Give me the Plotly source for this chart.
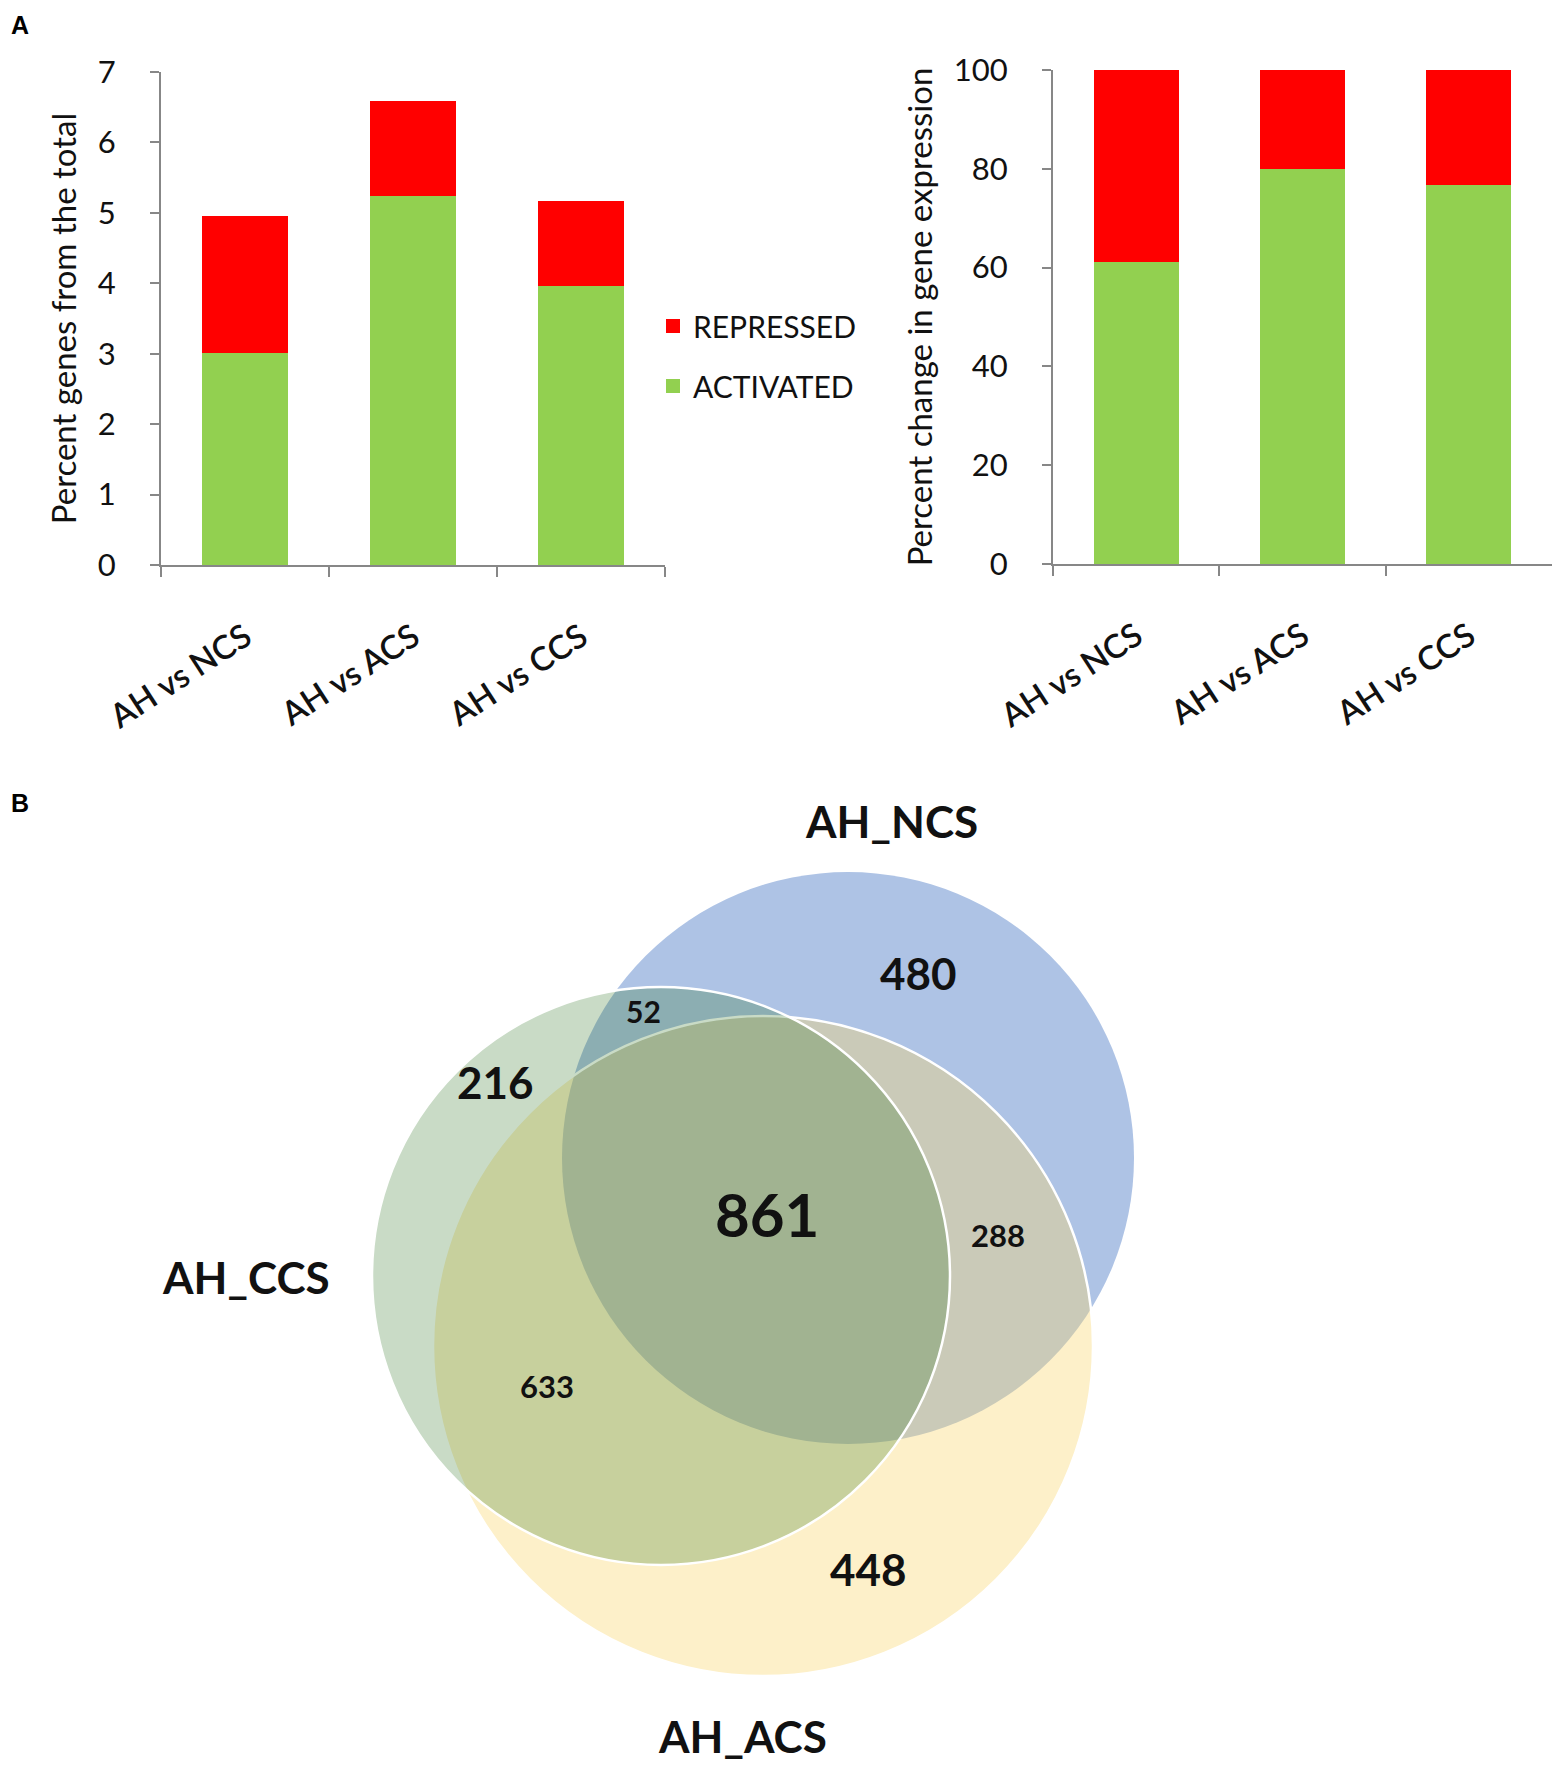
import plotly.graph_objects as go

# ---------- data ----------
comparisons = ["AH vs NCS", "AH vs ACS", "AH vs CCS"]
# percent genes from the total
activated_total = [3.02, 5.25, 3.98]
repressed_total = [1.92, 1.32, 1.18]
# percent change in gene expression
activated_change = [61.4, 80.2, 76.9]
repressed_change = [38.6, 19.8, 23.1]

venn_sets = ["AH_NCS", "AH_ACS", "AH_CCS"]
venn_regions = ["NCS", "NCS_CCS", "CCS", "ALL", "NCS_ACS", "CCS_ACS", "ACS"]
venn_counts = [480, 52, 216, 861, 288, 633, 448]

# ---------- layout helpers (pixels) ----------
W, H = 1562, 1767
FONT = "Lato"
RED = "#ff0000"
GREEN = "#92d050"
AXIS = "#878787"


def px(x):
    return x / W


def py(y):
    return 1 - y / H


fig = go.Figure()

# --- panel A, left ---
fig.add_trace(go.Bar(x=comparisons, y=activated_total, name="ACTIVATED", marker_color=GREEN,
                     marker_line=dict(color=GREEN, width=2), width=0.5, legendgroup="a",
                     legendrank=2, xaxis="x", yaxis="y"))
fig.add_trace(go.Bar(x=comparisons, y=repressed_total, name="REPRESSED", marker_color=RED,
                     marker_line=dict(color=RED, width=2), width=0.5, legendgroup="r",
                     legendrank=1, xaxis="x", yaxis="y"))
# --- panel A, right ---
fig.add_trace(go.Bar(x=comparisons, y=activated_change, name="ACTIVATED", marker_color=GREEN,
                     marker_line=dict(color=GREEN, width=2), width=0.5, showlegend=False,
                     xaxis="x2", yaxis="y2"))
fig.add_trace(go.Bar(x=comparisons, y=repressed_change, name="REPRESSED", marker_color=RED,
                     marker_line=dict(color=RED, width=2), width=0.5, showlegend=False,
                     xaxis="x2", yaxis="y2"))

xcommon = dict(showline=True, linecolor=AXIS, linewidth=2, ticks="outside", tickson="boundaries",
               ticklen=10, tickwidth=2, tickcolor=AXIS, tickangle=-33, ticklabelstandoff=38,
               tickfont=dict(family=FONT, size=33, color="#111", weight=600), showgrid=False,
               automargin=False)
ycommon = dict(showline=True, linecolor=AXIS, linewidth=2, ticks="outside", ticklen=9, tickwidth=2,
               tickcolor=AXIS, showgrid=False, zeroline=False, ticklabelstandoff=28,
               tickfont=dict(family=FONT, size=31, color="#111"), automargin=False)

fig.update_layout(
    xaxis=dict(domain=[px(161), px(665)], anchor="y", **xcommon),
    yaxis=dict(domain=[py(565), py(72)], anchor="x", range=[0, 7], dtick=1,
               title=dict(text="Percent genes from the total", standoff=11,
                          font=dict(family=FONT, size=33, color="#111")), **ycommon),
    xaxis2=dict(domain=[px(1053), px(1552)], anchor="y2", **xcommon),
    yaxis2=dict(domain=[py(564), py(70)], anchor="x2", range=[0, 100], dtick=20,
                title=dict(text="Percent change in gene expression", standoff=11,
                           font=dict(family=FONT, size=33, color="#111")), **ycommon),
    # venn panel uses pixel-like units
    xaxis3=dict(domain=[0, 1], range=[0, W], visible=False, anchor="y3", automargin=False),
    yaxis3=dict(domain=[0, py(760)], range=[H, 760], visible=False, anchor="x3", automargin=False),
    barmode="stack",
    width=W, height=H,
    margin=dict(l=0, r=0, t=0, b=0, autoexpand=False),
    paper_bgcolor="white", plot_bgcolor="white",
    showlegend=True,
    legend=dict(x=px(653), y=py(300), xanchor="left", yanchor="top", traceorder="grouped",
                tracegroupgap=18, font=dict(family=FONT, size=30, color="#111"),
                bgcolor="rgba(0,0,0,0)"),
)

# ---------- panel B : venn ----------
# circle geometry (centre x, centre y, radius) in pixels, drawn bottom to top
circles = {
    "AH_NCS": (848, 1158, 286),
    "AH_ACS": (763, 1346, 330),
    "AH_CCS": (661, 1276, 289),
}
fills = {
    "AH_NCS": "rgb(174,195,229)",
    "AH_ACS": "rgba(249,214,109,0.37)",
    "AH_CCS": "rgba(40,112,28,0.25)",
}
edges = {"AH_NCS": 0, "AH_ACS": 2.5, "AH_CCS": 2.5}
for s in venn_sets:
    cx, cy, r = circles[s]
    fig.add_shape(type="circle", xref="x3", yref="y3", x0=cx - r, x1=cx + r, y0=cy - r, y1=cy + r,
                  fillcolor=fills[s], line=dict(color="white", width=edges[s]), layer="below")

set_label_pos = {"AH_NCS": (891, 821), "AH_ACS": (742, 1736), "AH_CCS": (246, 1277)}
for s in venn_sets:
    lx, ly = set_label_pos[s]
    fig.add_annotation(x=lx, y=ly, xref="x3", yref="y3", text=s, showarrow=False,
                       font=dict(family=FONT, size=44, color="#111", weight="bold"))

count_pos = {
    "NCS": (918, 973, 44), "NCS_CCS": (643, 1011, 30), "CCS": (495, 1082, 44),
    "ALL": (767, 1214, 60), "NCS_ACS": (998, 1235, 31), "CCS_ACS": (547, 1386, 31),
    "ACS": (868, 1569, 44),
}
for reg, n in zip(venn_regions, venn_counts):
    cx, cy, fs = count_pos[reg]
    fig.add_annotation(x=cx, y=cy, xref="x3", yref="y3", text=str(n), showarrow=False,
                       font=dict(family=FONT, size=fs, color="#111", weight="bold"))

# panel letters
for letter, (lx, ly) in {"A": (20, 25), "B": (20, 803)}.items():
    fig.add_annotation(x=px(lx), y=py(ly), xref="paper", yref="paper", text=letter, showarrow=False,
                       xanchor="center", yanchor="middle",
                       font=dict(family="Liberation Sans", size=25, color="black", weight="bold"))

fig.write_html("out.html", config={"displayModeBar": False},
               post_script="document.body.style.margin='0';")
